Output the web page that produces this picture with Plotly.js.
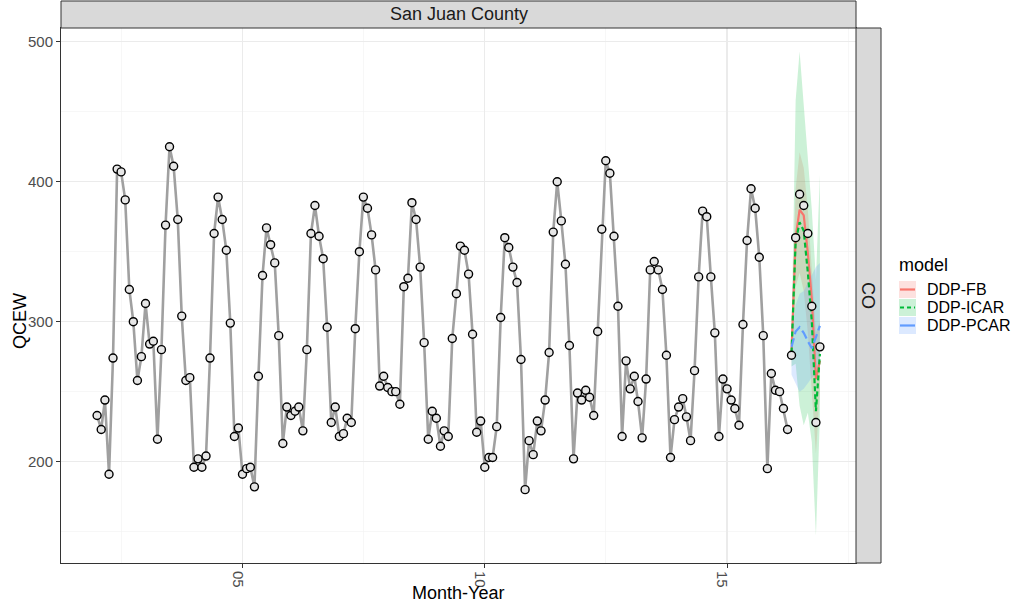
<!DOCTYPE html>
<html>
<head>
<meta charset="utf-8">
<script src="https://cdn.plot.ly/plotly-3.0.1.min.js"></script>
<style>html,body{margin:0;padding:0;background:#fff;}#chart{width:1011px;height:606px;}</style>
</head>
<body>
<div id="chart"></div>
<script>
// ---------------- DATA ----------------
const firstYear = 2002;          // series starts Jan 2002, monthly
const panelTitle = "San Juan County";
const stateLabel = "CO";
const xTickVals = ["2005-01-01", "2010-01-01", "2015-01-01"];
const xTickText = ["05", "10", "15"];
const yTickVals = [200, 300, 400, 500];

// observed QCEW, Jan 2002 .. Apr 2016 (172 months)
const qcewObserved = [
  233, 223, 244, 191, 274, 409, 407, 387, 323, 300, 258, 275,
  313, 284, 286, 216, 280, 369, 425, 411, 373, 304, 258, 260,
  196, 202, 196, 204, 274, 363, 389, 373, 351, 299, 218, 224,
  191, 195, 196, 182, 261, 333, 367, 355, 342, 290, 213, 239,
  233, 236, 239, 222, 280, 363, 383, 361, 345, 296, 228, 239,
  218, 220, 231, 228, 295, 350, 389, 381, 362, 337, 254, 261,
  253, 250, 250, 241, 325, 331, 385, 373, 339, 285, 216, 236,
  231, 211, 222, 218, 288, 320, 354, 351, 334, 291, 221, 229,
  196, 203, 203, 225, 303, 360, 353, 339, 328, 273, 180, 215,
  205, 229, 222, 244, 278, 364, 400, 372, 341, 283, 202, 249,
  244, 251, 246, 233, 293, 366, 415, 406, 361, 311, 218, 272,
  252, 261, 243, 217, 259, 337, 343, 337, 323, 276, 203, 230,
  239, 245, 232, 215, 265, 332, 379, 375, 332, 292, 218, 259,
  252, 244, 238, 226, 298, 358, 395, 381, 346, 290, 195, 263,
  251, 250, 238, 223
];
// held-out observed values, May 2016 .. Dec 2016
const qcewHoldout = [276, 360, 391, 383, 363, 311, 228, 282];

const models = ["DDP-FB", "DDP-ICAR", "DDP-PCAR"];
// forecast means, May 2016 .. Dec 2016
const fbMean   = [278, 360, 380, 376, 349, 316, 259, 272];
const icarMean = [278, 357, 371, 365, 335, 300, 236, 277];
const pcarMean = [282, 293, 296, 292, 286, 281, 289, 297];
// forecast intervals
const fbLower   = [270, 325, 335, 322, 292, 252, 206, 250];
const fbUpper   = [290, 395, 421, 410, 380, 340, 292, 300];
const icarLower = [268, 270, 240, 226, 235, 214, 147, 232];
const icarUpper = [290, 458, 493, 455, 420, 380, 330, 405];
const pcarLower = [262, 256, 250, 252, 256, 260, 262, 270];
const pcarUpper = [290, 312, 320, 322, 328, 333, 339, 342];

// ---------------- BUILD ----------------
function monthDate(i) {
  const y = firstYear + Math.floor(i / 12);
  const m = (i % 12) + 1;
  return y + "-" + (m < 10 ? "0" + m : m) + "-01";
}
const nObs = qcewObserved.length;
const obsDates = qcewObserved.map((v, i) => monthDate(i));
const holdDates = qcewHoldout.map((v, i) => monthDate(nObs + i));

const colors = {"DDP-FB": "#F8766D", "DDP-ICAR": "#00BA38", "DDP-PCAR": "#619CFF"};
const fills  = {"DDP-FB": "rgba(248,118,109,0.22)", "DDP-ICAR": "rgba(0,186,56,0.2)", "DDP-PCAR": "rgba(97,156,255,0.22)"};
const dashes = {"DDP-FB": "solid", "DDP-ICAR": "5px,3px", "DDP-PCAR": "9px,4px"};
const means  = {"DDP-FB": fbMean, "DDP-ICAR": icarMean, "DDP-PCAR": pcarMean};
const lows   = {"DDP-FB": fbLower, "DDP-ICAR": icarLower, "DDP-PCAR": pcarLower};
const highs  = {"DDP-FB": fbUpper, "DDP-ICAR": icarUpper, "DDP-PCAR": pcarUpper};

const traces = [];
traces.push({
  x: obsDates, y: qcewObserved, type: "scatter", mode: "lines",
  line: {color: "#A0A0A0", width: 2.6}, hoverinfo: "skip", showlegend: false
});
models.forEach(m => {
  traces.push({
    x: holdDates.concat(holdDates.slice().reverse()),
    y: highs[m].concat(lows[m].slice().reverse()),
    type: "scatter", mode: "lines", fill: "toself", fillcolor: fills[m],
    line: {width: 0, color: "rgba(0,0,0,0)"}, hoverinfo: "skip", showlegend: false
  });
});
models.forEach(m => {
  traces.push({
    x: holdDates, y: means[m], type: "scatter", mode: "lines",
    line: {color: colors[m], width: 2.2, dash: dashes[m]}, showlegend: false, name: m
  });
});
traces.push({
  x: obsDates.concat(holdDates), y: qcewObserved.concat(qcewHoldout),
  type: "scatter", mode: "markers",
  marker: {size: 8, color: "#E6E6E6", line: {color: "#000000", width: 1.4}},
  showlegend: false
});

// geometry helpers (plot area 61..856 x 28..563)
const L = 61, R = 856, T = 28, B = 563;
const W = R - L, H = B - T;
const px = v => (v - L) / W;
const py = v => (B - v) / H;
const FONT = "Liberation Sans, Arial, sans-serif";

const shapes = [
  {type: "rect", xref: "paper", yref: "paper", x0: 0, x1: 1, y0: 1, y1: py(1),
   fillcolor: "#D9D9D9", line: {color: "#333333", width: 1}, layer: "above"},
  {type: "rect", xref: "paper", yref: "paper", x0: 1, x1: px(881), y0: 0, y1: 1,
   fillcolor: "#D9D9D9", line: {color: "#333333", width: 1}, layer: "above"}
];
const annotations = [
  {text: panelTitle, xref: "paper", yref: "paper", x: 0.5, y: py(14.5), showarrow: false,
   font: {family: FONT, size: 18, color: "#1A1A1A"}, xanchor: "center", yanchor: "middle"},
  {text: stateLabel, xref: "paper", yref: "paper", x: px(868.5), y: 0.5, showarrow: false, textangle: 90,
   font: {family: FONT, size: 18, color: "#1A1A1A"}, xanchor: "center", yanchor: "middle"},
  {text: "QCEW", xref: "paper", yref: "paper", x: px(20), y: py(321), showarrow: false, textangle: -90,
   font: {family: FONT, size: 18, color: "#000000"}, xanchor: "center", yanchor: "middle"},
  {text: "Month-Year", xref: "paper", yref: "paper", x: px(458), y: py(593), showarrow: false,
   font: {family: FONT, size: 18, color: "#000000"}, xanchor: "center", yanchor: "middle"},
  {text: "model", xref: "paper", yref: "paper", x: px(897), y: py(265), showarrow: false,
   font: {family: FONT, size: 18, color: "#000000"}, xanchor: "left", yanchor: "middle"}
];
// legend keys
models.forEach((m, i) => {
  const cy = 289.5 + i * 18;
  shapes.push({type: "rect", xref: "paper", yref: "paper", x0: px(899), x1: px(916), y0: py(cy - 8.5), y1: py(cy + 8.5),
    fillcolor: fills[m], line: {width: 0}});
  shapes.push({type: "line", xref: "paper", yref: "paper", x0: px(900), x1: px(915), y0: py(cy), y1: py(cy),
    line: {color: colors[m], width: 2.2, dash: m === "DDP-ICAR" ? "4px,3px" : "solid"}});
  annotations.push({text: m, xref: "paper", yref: "paper", x: px(925), y: py(cy), showarrow: false,
    font: {family: FONT, size: 16, color: "#000000"}, xanchor: "left", yanchor: "middle"});
});

const layout = {
  width: 1011, height: 606,
  margin: {l: L, r: 1011 - R, t: T, b: 606 - B, pad: 0},
  paper_bgcolor: "#FFFFFF", plot_bgcolor: "#FFFFFF",
  showlegend: false,
  font: {family: FONT},
  xaxis: {
    type: "date", range: ["2001-04-04", "2017-08-30"],
    tickmode: "array", tickvals: xTickVals, ticktext: xTickText, tickangle: 90,
    ticklabelshift: -5,
    tickfont: {size: 15, color: "#4D4D4D"},
    ticks: "outside", ticklen: 4, tickcolor: "#333333", tickwidth: 1,
    showgrid: true, gridcolor: "#EBEBEB", gridwidth: 1.1,
    minor: {tickmode: "array", tickvals: ["2002-07-02", "2007-07-02", "2012-07-02", "2017-07-02"],
            showgrid: true, gridcolor: "#F2F2F2", gridwidth: 0.6, ticks: ""},
    showline: true, mirror: true, linecolor: "#333333", linewidth: 1,
    zeroline: false, fixedrange: true
  },
  yaxis: {
    range: [127.6, 509.8],
    tickmode: "array", tickvals: yTickVals,
    tickfont: {size: 15, color: "#4D4D4D"},
    ticks: "outside", ticklen: 4, tickcolor: "#333333", tickwidth: 1,
    showgrid: true, gridcolor: "#EBEBEB", gridwidth: 1.1,
    minor: {tickmode: "array", tickvals: [150, 250, 350, 450], showgrid: true, gridcolor: "#F2F2F2", gridwidth: 0.6, ticks: ""},
    showline: true, mirror: true, linecolor: "#333333", linewidth: 1,
    zeroline: false, fixedrange: true
  },
  shapes: shapes,
  annotations: annotations
};

Plotly.newPlot("chart", traces, layout, {displayModeBar: false, staticPlot: true});
</script>
</body>
</html>
